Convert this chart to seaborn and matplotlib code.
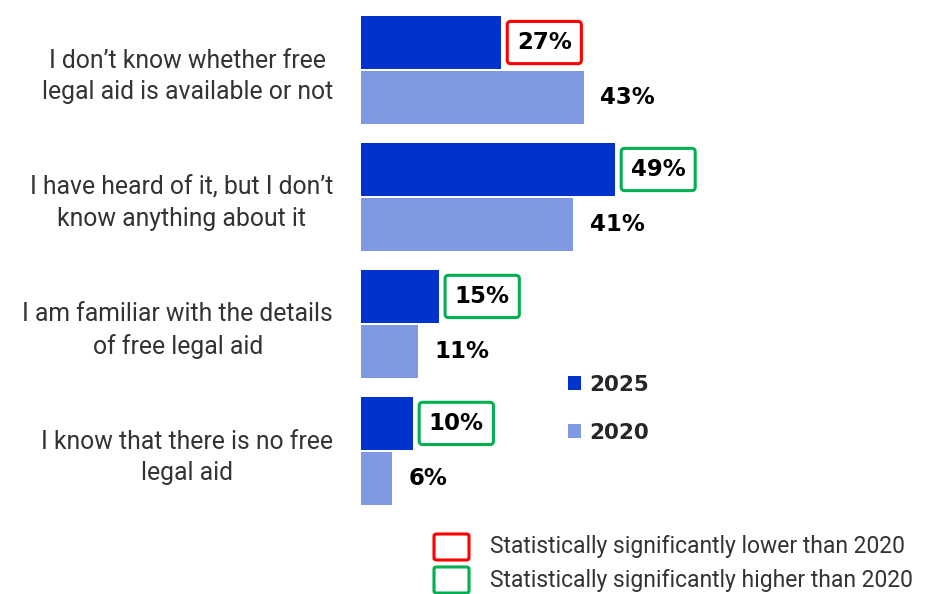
import matplotlib
matplotlib.use("Agg")
import matplotlib.pyplot as plt
from matplotlib.patches import Patch, FancyBboxPatch
import seaborn as sns
import pandas as pd

categories = [
    "I don\u2019t know whether free\nlegal aid is available or not",
    "I have heard of it, but I don\u2019t\nknow anything about it",
    "I am familiar with the details\nof free legal aid",
    "I know that there is no free\nlegal aid",
]
values_2025 = [27, 49, 15, 10]
values_2020 = [43, 41, 11, 6]
significance_2025 = ["lower", "higher", "higher", "higher"]
years = ["2025", "2020"]

COLOR_2025 = "#0033CC"
COLOR_2020 = "#7F9AE3"
SIG_COLORS = {"lower": "#FF0000", "higher": "#00B050"}
TEXT_GRAY = "#333333"

df = pd.DataFrame({
    "category": categories * 2,
    "value": values_2025 + values_2020,
    "year": [years[0]] * len(categories) + [years[1]] * len(categories),
})

sns.set_theme(style="white")
plt.rcParams["font.family"] = ["Roboto", "DejaVu Sans"]

fig = plt.figure(figsize=(9.25, 5.94), dpi=100)
ax = fig.add_axes([0.3903, 0.1338, 0.56, 0.855])

sns.barplot(
    data=df, y="category", x="value", hue="year", orient="h",
    hue_order=years, palette=[COLOR_2025, COLOR_2020],
    width=0.87, gap=0.035, saturation=1, legend=False, ax=ax,
    linewidth=0,
)

ax.set_xlim(0, 100)
ax.set_ylim(3.5, -0.5)
ax.set_xlabel("")
ax.set_ylabel("")
ax.set_xticks([])
for s in ax.spines.values():
    s.set_visible(False)
ax.tick_params(axis="y", length=0, pad=20)
for lbl in ax.get_yticklabels():
    lbl.set_fontsize(17.8)
    lbl.set_color(TEXT_GRAY)
    lbl.set_multialignment("center")
    lbl.set_linespacing(1.4)

value_font = dict(family=["DejaVu Sans"], fontsize=16.5, fontweight="bold", color="black")

# value labels; 2025 labels framed by significance colour
containers = ax.containers
for i, bar in enumerate(containers[0]):
    w = bar.get_width()
    yc = bar.get_y() + bar.get_height() / 2
    ax.annotate(f"{values_2025[i]}%", xy=(w, yc), xytext=(11.5, 0),
                textcoords="offset points", va="center", ha="left",
                bbox=dict(boxstyle="round,pad=0.42,rounding_size=0.15",
                          facecolor="white",
                          edgecolor=SIG_COLORS[significance_2025[i]],
                          linewidth=2.2),
                **value_font)
for i, bar in enumerate(containers[1]):
    w = bar.get_width()
    yc = bar.get_y() + bar.get_height() / 2
    ax.annotate(f"{values_2020[i]}%", xy=(w, yc), xytext=(12, 0),
                textcoords="offset points", va="center", ha="left",
                **value_font)

# year legend
handles = [Patch(facecolor=COLOR_2025, edgecolor="none"),
           Patch(facecolor=COLOR_2020, edgecolor="none")]
fig.legend(handles, years, loc="upper left",
           bbox_to_anchor=(559 / 925, 1 - 366 / 594),
           frameon=False, handlelength=0.6, handleheight=0.6,
           handletextpad=0.4, labelspacing=1.3, borderaxespad=0,
           prop=dict(family="DejaVu Sans", weight="bold", size=15.5))

# significance key
W, H = 925, 594
for (y0, key, text) in [(534, "lower", "Statistically significantly lower than 2020"),
                        (567, "higher", "Statistically significantly higher than 2020")]:
    box = FancyBboxPatch((434 / W, 1 - (y0 + 26) / H), 35 / W, 26 / H,
                         boxstyle="round,pad=0,rounding_size=0.003",
                         transform=fig.transFigure, facecolor="white",
                         edgecolor=SIG_COLORS[key], linewidth=2.2)
    fig.add_artist(box)
    fig.text(490 / W, 1 - (y0 + 13) / H, text, ha="left", va="center",
             fontsize=16.5, color=TEXT_GRAY)

fig.savefig("out.png", dpi=100)
